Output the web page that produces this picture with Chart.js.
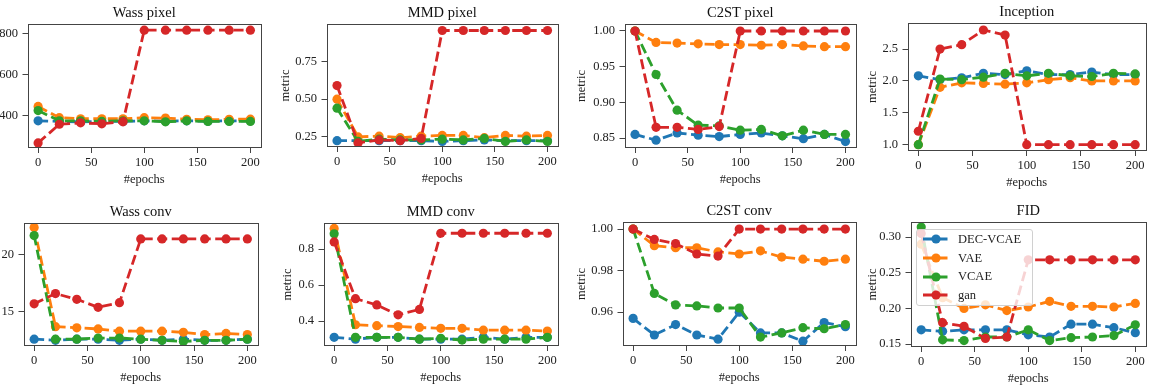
<!DOCTYPE html>
<html>
<head>
<meta charset="utf-8">
<title>Training metrics</title>
<script src="https://cdn.jsdelivr.net/npm/chart.js@4.4.1/dist/chart.umd.min.js"></script>
<style>
    html, body { margin: 0; padding: 0; background: #fff; }
    body { width: 1152px; height: 386px; overflow: hidden; position: relative; }
    canvas.panel { position: absolute; }
    #legend {
        position: absolute; left: 916px; top: 229px; width: 115px;
        background: rgba(255, 255, 255, 0.8); border: 1px solid #d0d0d0; border-radius: 3px;
        font-family: 'Liberation Serif', 'DejaVu Serif', serif; font-size: 12.5px; color: #222;
    }
    #legend .row { height: 18.7px; line-height: 18.7px; white-space: nowrap; }
    #legend canvas { vertical-align: middle; margin: 0 9px 0 6px; position: relative; top: -1px; }
</style>
</head>
<body>
<div id="legend"></div>
<script>
var epochs = [0, 20, 40, 60, 80, 100, 120, 140, 160, 180, 200];
var xTicks = [0, 50, 100, 150, 200];
var seriesNames = ['DEC-VCAE', 'VAE', 'VCAE', 'gan'];
var seriesColors = ['#1f77b4', '#ff7f0e', '#2ca02c', '#d62728'];

// one row per series: DEC-VCAE, VAE, VCAE, gan
var wassPixel = [
    [375, 372, 370, 372, 372, 375, 373, 375, 373, 375, 375],
    [445, 390, 385, 385, 385, 390, 388, 382, 380, 382, 383],
    [425, 375, 375, 372, 375, 375, 370, 375, 372, 372, 372],
    [267, 358, 365, 360, 370, 818, 818, 818, 818, 818, 818]
];
var mmdPixel = [
    [0.225, 0.225, 0.225, 0.225, 0.225, 0.22, 0.225, 0.23, 0.225, 0.225, 0.225],
    [0.50, 0.25, 0.255, 0.245, 0.255, 0.26, 0.26, 0.245, 0.26, 0.255, 0.26],
    [0.44, 0.22, 0.235, 0.23, 0.23, 0.235, 0.23, 0.24, 0.22, 0.23, 0.22],
    [0.59, 0.21, 0.23, 0.225, 0.24, 0.955, 0.955, 0.955, 0.955, 0.955, 0.955]
];
var c2stPixel = [
    [0.855, 0.847, 0.857, 0.854, 0.852, 0.855, 0.857, 0.853, 0.849, 0.855, 0.845],
    [1.0, 0.984, 0.983, 0.982, 0.981, 0.981, 0.980, 0.981, 0.979, 0.978, 0.978],
    [1.0, 0.939, 0.889, 0.868, 0.867, 0.861, 0.862, 0.853, 0.861, 0.855, 0.855],
    [1.0, 0.865, 0.865, 0.862, 0.866, 1.0, 1.0, 1.0, 1.0, 1.0, 1.0]
];
var inception = [
    [2.08, 2.02, 2.05, 2.12, 2.10, 2.16, 2.10, 2.10, 2.14, 2.10, 2.10],
    [1.0, 1.90, 1.97, 1.96, 1.95, 1.97, 2.02, 2.05, 2.0, 2.0, 2.0],
    [1.0, 2.03, 2.02, 2.06, 2.12, 2.08, 2.12, 2.08, 2.07, 2.12, 2.11],
    [1.21, 2.50, 2.57, 2.80, 2.72, 1.0, 1.0, 1.0, 1.0, 1.0, 1.0]
];
var wassConv = [
    [12.6, 12.5, 12.6, 12.6, 12.5, 12.6, 12.5, 12.6, 12.5, 12.5, 12.6],
    [22.4, 13.7, 13.6, 13.5, 13.3, 13.3, 13.3, 13.2, 13.0, 13.1, 13.0],
    [21.7, 12.6, 12.6, 12.7, 12.7, 12.6, 12.5, 12.4, 12.5, 12.5, 12.6],
    [15.7, 16.6, 16.1, 15.4, 15.8, 21.4, 21.4, 21.4, 21.4, 21.4, 21.4]
];
var mmdConv = [
    [0.31, 0.30, 0.31, 0.31, 0.30, 0.30, 0.30, 0.31, 0.30, 0.31, 0.31],
    [0.915, 0.38, 0.375, 0.37, 0.365, 0.36, 0.36, 0.35, 0.35, 0.35, 0.345],
    [0.885, 0.31, 0.31, 0.31, 0.30, 0.305, 0.295, 0.30, 0.30, 0.30, 0.31],
    [0.84, 0.525, 0.49, 0.435, 0.465, 0.888, 0.888, 0.888, 0.888, 0.888, 0.888]
];
var c2stConv = [
    [0.957, 0.949, 0.954, 0.949, 0.947, 0.960, 0.950, 0.950, 0.946, 0.955, 0.953],
    [1.0, 0.992, 0.991, 0.991, 0.989, 0.988, 0.9895, 0.9865, 0.9855, 0.9845, 0.9855],
    [1.0, 0.969, 0.9635, 0.963, 0.962, 0.962, 0.948, 0.950, 0.9525, 0.952, 0.954],
    [1.0, 0.995, 0.993, 0.988, 0.987, 1.0, 1.0, 1.0, 1.0, 1.0, 1.0]
];
var fid = [
    [0.17, 0.168, 0.17, 0.17, 0.17, 0.163, 0.16, 0.178, 0.178, 0.173, 0.166],
    [0.29, 0.215, 0.20, 0.205, 0.197, 0.202, 0.21, 0.203, 0.203, 0.202, 0.207],
    [0.314, 0.156, 0.155, 0.16, 0.16, 0.17, 0.155, 0.159, 0.16, 0.162, 0.177],
    [0.305, 0.18, 0.175, 0.158, 0.16, 0.268, 0.268, 0.268, 0.268, 0.268, 0.268]
];

var panelTitles = ['Wass pixel', 'MMD pixel', 'C2ST pixel', 'Inception',
                   'Wass conv', 'MMD conv', 'C2ST conv', 'FID'];
var panelData = [wassPixel, mmdPixel, c2stPixel, inception, wassConv, mmdConv, c2stConv, fid];
var yTickValues = [
    [400, 600, 800], [0.25, 0.5, 0.75], [0.85, 0.9, 0.95, 1.0], [1.0, 1.5, 2.0, 2.5],
    [15, 20], [0.4, 0.6, 0.8], [0.96, 0.98, 1.0], [0.15, 0.2, 0.25, 0.3]
];
var yDecimals = [0, 2, 2, 1, 0, 1, 2, 2];
var yRanges = [
    [242, 848], [0.183, 0.998], [0.836, 1.0098], [0.9, 2.91],
    [12.0, 22.8], [0.262, 0.945], [0.9437, 1.0034], [0.146, 0.321]
];

// plot-area boxes in page pixels, lab = distance of the "metric" label from the left spine
var plotBoxes = [
    { l: 27, t: 24, r: 260, b: 148, lab: 41 },
    { l: 326, t: 24, r: 557, b: 147, lab: 41 },
    { l: 624, t: 24, r: 855, b: 148, lab: 43 },
    { l: 907, t: 23, r: 1145, b: 151, lab: 35 },
    { l: 23, t: 223, r: 257, b: 346, lab: 36 },
    { l: 323, t: 223, r: 557, b: 346, lab: 36 },
    { l: 622, t: 222, r: 855, b: 346, lab: 41 },
    { l: 910, t: 222, r: 1145, b: 347, lab: 38 }
];

var SERIF = "'Liberation Serif', 'DejaVu Serif', serif";
var TITLE_H = 20, XAXIS_H = 40, PAD_R = 12;

Chart.defaults.font.family = SERIF;
Chart.defaults.color = '#222';

var framePlugin = {
    id: 'frame',
    afterDatasetsDraw: function(chart) {
        var a = chart.chartArea, ctx = chart.ctx;
        ctx.save();
        ctx.strokeStyle = '#444';
        ctx.lineWidth = 1;
        ctx.strokeRect(Math.round(a.left) + 0.5, Math.round(a.top) + 0.5,
            Math.round(a.right - a.left) - 1, Math.round(a.bottom - a.top) - 1);
        ctx.restore();
    }
};

function makeDatasets(rows) {
    return rows.map(function(vals, si) {
        return {
            label: seriesNames[si],
            data: epochs.map(function(x, i) { return { x: x, y: vals[i] }; }),
            borderColor: seriesColors[si],
            backgroundColor: seriesColors[si],
            pointBackgroundColor: seriesColors[si],
            borderWidth: 2.8,
            borderDash: [10, 4.5],
            pointRadius: 4.6,
            pointBorderWidth: 0,
            fill: false,
            tension: 0,
            order: 3 - si
        };
    });
}

function renderPanel(idx) {
    var box = plotBoxes[idx];
    var yW = box.lab + 7.5;
    var canvas = document.createElement('canvas');
    canvas.className = 'panel';
    canvas.width = Math.round(yW + (box.r - box.l) + PAD_R);
    canvas.height = TITLE_H + (box.b - box.t) + XAXIS_H;
    canvas.style.left = (box.l - yW) + 'px';
    canvas.style.top = (box.t - TITLE_H) + 'px';
    document.body.insertBefore(canvas, document.getElementById('legend'));

    var dec = yDecimals[idx];
    var tickGrid = { display: true, drawOnChartArea: false, drawTicks: true, tickLength: 5, color: '#444', lineWidth: 1 };

    new Chart(canvas, {
        type: 'line',
        data: { datasets: makeDatasets(panelData[idx]) },
        plugins: [framePlugin],
        options: {
            responsive: false,
            animation: false,
            layout: { padding: { left: 0, top: 0, right: PAD_R, bottom: 0 } },
            plugins: {
                legend: { display: false },
                tooltip: { enabled: false },
                title: {
                    display: true, text: panelTitles[idx], fullSize: false,
                    font: { size: 14.5, weight: 'normal' }, color: '#111',
                    padding: { top: 0, bottom: TITLE_H - 17.4 }
                }
            },
            scales: {
                x: {
                    type: 'linear', min: -10, max: 210,
                    afterBuildTicks: function(s) { s.ticks = xTicks.map(function(v) { return { value: v }; }); },
                    afterFit: function(s) { s.height = XAXIS_H; },
                    ticks: { font: { size: 12.5 }, padding: 2, maxRotation: 0, color: '#222' },
                    grid: tickGrid,
                    border: { display: false },
                    title: { display: true, text: '#epochs', font: { size: 12.5 }, color: '#222', padding: { top: 0, bottom: 0.5 } }
                },
                y: {
                    min: yRanges[idx][0], max: yRanges[idx][1],
                    afterBuildTicks: function(s) { s.ticks = yTickValues[idx].map(function(v) { return { value: v }; }); },
                    afterFit: function(s) { s.width = yW; },
                    ticks: {
                        font: { size: 12.5 }, padding: 4.5, color: '#222',
                        callback: function(v) { return Number(v).toFixed(dec); }
                    },
                    grid: tickGrid,
                    border: { display: false },
                    title: { display: true, text: 'metric', font: { size: 12.5 }, color: '#222', padding: { top: 0, bottom: 0 } }
                }
            }
        }
    });
}

function buildLegend() {
    var holder = document.getElementById('legend');
    seriesNames.forEach(function(name, si) {
        var row = document.createElement('div');
        row.className = 'row';
        var h = document.createElement('canvas');
        h.width = 26; h.height = 12;
        var ctx = h.getContext('2d');
        ctx.strokeStyle = seriesColors[si];
        ctx.fillStyle = seriesColors[si];
        ctx.lineWidth = 2.8;
        ctx.setLineDash([10, 4.5]);
        ctx.beginPath(); ctx.moveTo(0, 6); ctx.lineTo(26, 6); ctx.stroke();
        ctx.beginPath(); ctx.arc(13, 6, 4.6, 0, Math.PI * 2); ctx.fill();
        row.appendChild(h);
        row.appendChild(document.createTextNode(name));
        holder.appendChild(row);
    });
}

for (var p = 0; p < panelTitles.length; p++) renderPanel(p);
buildLegend();
</script>
</body>
</html>
